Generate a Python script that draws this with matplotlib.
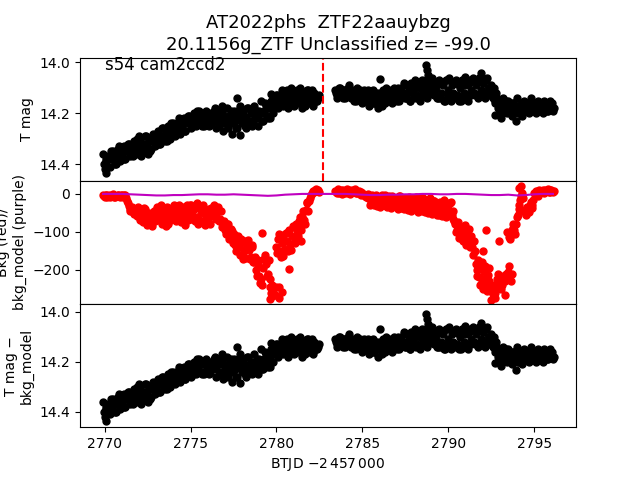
import numpy as np
import matplotlib
matplotlib.use("Agg")
import matplotlib.pyplot as plt

# ---------------- data ----------------
# segment 1 starts BTJD 2769.9, segment 2 starts 2783.4; values every 0.1 d,
# a second interleaved set of readings sits half a cadence later.
seg1_start, seg1_n = 2769.9, 126
seg2_start, seg2_n = 2783.4, 128
cadence = 0.1

mag_seg1 = [
    14.36, 14.42, 14.39, 14.37, 14.41, 14.38, 14.35, 14.40, 14.37, 14.34,
    14.39, 14.36, 14.33, 14.38, 14.35, 14.32, 14.37, 14.34, 14.31, 14.36,
    14.33, 14.29, 14.37, 14.32, 14.35, 14.29, 14.36, 14.31, 14.34, 14.28,
    14.33, 14.30, 14.27, 14.32, 14.29, 14.26, 14.31, 14.28, 14.25, 14.30,
    14.27, 14.24, 14.29, 14.26, 14.23, 14.28, 14.25, 14.22, 14.27, 14.24,
    14.21, 14.26, 14.23, 14.20, 14.25, 14.22, 14.19, 14.24, 14.21, 14.25,
    14.19, 14.22, 14.25, 14.20, 14.23, 14.18, 14.26, 14.21, 14.24, 14.19,
    14.27, 14.22, 14.18, 14.25, 14.21, 14.28, 14.19, 14.23, 14.26, 14.20,
    14.17, 14.24, 14.21, 14.26, 14.18, 14.23, 14.20, 14.25, 14.17, 14.22,
    14.25, 14.19, 14.15, 14.23, 14.20, 14.17, 14.22, 14.18, 14.15, 14.20,
    14.17, 14.13, 14.18, 14.15, 14.12, 14.17, 14.14, 14.11, 14.18, 14.15,
    14.12, 14.17, 14.14, 14.11, 14.16, 14.13, 14.18, 14.12, 14.15, 14.11,
    14.16, 14.13, 14.17, 14.12, 14.15, 14.14,
]
mag_seg1_b = [
    14.40, 14.38, 14.41, 14.38, 14.35, 14.38, 14.36, 14.40, 14.36, 14.33,
    14.37, 14.35, 14.38, 14.35, 14.32, 14.35, 14.33, 14.37, 14.33, 14.30,
    14.34, 14.31, 14.35, 14.32, 14.29, 14.33, 14.30, 14.35, 14.31, 14.30,
    14.31, 14.29, 14.32, 14.29, 14.26, 14.30, 14.27, 14.31, 14.27, 14.24,
    14.28, 14.25, 14.28, 14.25, 14.22, 14.26, 14.23, 14.27, 14.23, 14.21,
    14.24, 14.22, 14.25, 14.22, 14.19, 14.23, 14.21, 14.25, 14.21, 14.20,
    14.23, 14.21, 14.24, 14.22, 14.19, 14.22, 14.20, 14.25, 14.21, 14.17,
    14.24, 14.21, 14.26, 14.23, 14.19, 14.24, 14.21, 14.26, 14.22, 14.18,
    14.23, 14.20, 14.25, 14.22, 14.18, 14.23, 14.20, 14.24, 14.21, 14.19,
    14.22, 14.20, 14.23, 14.19, 14.16, 14.21, 14.18, 14.22, 14.17, 14.14,
    14.15, 14.13, 14.16, 14.14, 14.11, 14.15, 14.13, 14.17, 14.13, 14.10,
    14.14, 14.12, 14.16, 14.13, 14.10, 14.15, 14.12, 14.17, 14.14, 14.11,
    14.14, 14.11, 14.16, 14.13, 14.15, 14.13,
]
mag_seg2 = [
    14.11, 14.14, 14.12, 14.10, 14.13, 14.11, 14.14, 14.12, 14.09, 14.13,
    14.11, 14.15, 14.12, 14.10, 14.14, 14.13, 14.16, 14.11, 14.14, 14.12,
    14.17, 14.13, 14.11, 14.16, 14.14, 14.18, 14.12, 14.15, 14.11, 14.16,
    14.10, 14.14, 14.12, 14.16, 14.11, 14.13, 14.15, 14.10, 14.14, 14.12,
    14.09, 14.14, 14.12, 14.10, 14.15, 14.11, 14.08, 14.13, 14.10, 14.14,
    14.08, 14.12, 14.10, 14.07, 14.13, 14.09, 14.11, 14.08, 14.12, 14.10,
    14.14, 14.08, 14.12, 14.09, 14.15, 14.07, 14.11, 14.14, 14.09, 14.12,
    14.08, 14.13, 14.15, 14.10, 14.07, 14.12, 14.09, 14.14, 14.08, 14.11,
    14.07, 14.12, 14.09, 14.13, 14.06, 14.11, 14.08, 14.13, 14.07, 14.10,
    14.12, 14.09, 14.14, 14.16, 14.12, 14.18, 14.15, 14.19, 14.14, 14.17,
    14.20, 14.15, 14.18, 14.21, 14.16, 14.19, 14.14, 14.20, 14.17, 14.21,
    14.15, 14.19, 14.16, 14.20, 14.14, 14.18, 14.17, 14.20, 14.15, 14.19,
    14.16, 14.20, 14.15, 14.18, 14.19, 14.15, 14.17, 14.19,
]
mag_seg2_b = [
    14.12, 14.13, 14.10, 14.12, 14.14, 14.11, 14.13, 14.10, 14.12, 14.14,
    14.13, 14.12, 14.15, 14.13, 14.11, 14.14, 14.12, 14.15, 14.13, 14.11,
    14.15, 14.12, 14.16, 14.14, 14.12, 14.15, 14.13, 14.17, 14.14, 14.12,
    14.13, 14.11, 14.15, 14.13, 14.10, 14.14, 14.12, 14.15, 14.11, 14.13,
    14.08, 14.14, 14.09, 14.15, 14.08, 14.13, 14.07, 14.14, 14.09, 14.15,
    14.07, 14.13, 14.08, 14.14, 14.07, 14.12, 14.06, 14.13, 14.08, 14.14,
    14.07, 14.14, 14.08, 14.15, 14.07, 14.13, 14.06, 14.15, 14.08, 14.14,
    14.07, 14.14, 14.09, 14.15, 14.07, 14.13, 14.08, 14.15, 14.07, 14.13,
    14.06, 14.13, 14.07, 14.14, 14.06, 14.12, 14.08, 14.14, 14.06, 14.13,
    14.11, 14.13, 14.10, 14.15, 14.14, 14.17, 14.16, 14.20, 14.18, 14.15,
    14.18, 14.17, 14.20, 14.16, 14.19, 14.17, 14.20, 14.18, 14.16, 14.19,
    14.17, 14.18, 14.16, 14.19, 14.17, 14.18, 14.16, 14.18, 14.17, 14.19,
    14.17, 14.18, 14.16, 14.19, 14.17, 14.18, 14.16, 14.18,
]
mag_out_t = [2770.06, 2777.68, 2777.87, 2779.70, 2786.05, 2788.70, 2788.75,
             2788.80, 2790.98, 2791.93, 2792.73, 2793.07, 2793.96]
mag_out_v = [14.435, 14.142, 14.286, 14.123, 14.067, 14.010, 14.030,
             14.050, 14.058, 14.043, 14.205, 14.218, 14.231]

bkg_seg1 = [
    -3, -8, -2, -6, -9, -4, -1, -7, -5, -3,
    -8, -2, -6, -4, -18, -32, -45, -35, -52, -40,
    -58, -42, -63, -48, -38, -55, -70, -52, -78, -60,
    -45, -62, -38, -55, -48, -72, -60, -42, -80, -52,
    -38, -58, -45, -32, -62, -50, -70, -40, -58, -30,
    -48, -28, -55, -40, -62, -35, -68, -50, -42, -72,
    -55, -68, -48, -38, -58, -42, -52, -35, -65, -75,
    -82, -95, -78, -102, -110, -98, -120, -135, -115, -140,
    -128, -160, -150, -135, -125, -148, -165, -140, -178, -200,
    -185, -215, -225, -195, -170, -185, -210, -225, -260, -248,
    -265, -140, -118, -150, -130, -108, -145, -125, -100, -132,
    -110, -88, -125, -95, -72, -85, -58, -68, -42, -25,
    -18, -2, 8, 5, 12, 9,
]
bkg_seg1_b = [
    -5, -2, -7, -4, -6, -3, -8, -5, -2, -6,
    -4, -7, -3, -10, -25, -40, -38, -48, -45, -55,
    -35, -68, -45, -75, -40, -82, -50, -72, -85, -45,
    -70, -35, -68, -30, -78, -45, -85, -35, -70, -40,
    -65, -30, -70, -40, -28, -75, -35, -82, -45, -68,
    -30, -65, -35, -72, -25, -78, -38, -70, -30, -82,
    -75, -40, -78, -55, -30, -65, -38, -72, -45, -88,
    -70, -105, -80, -118, -92, -130, -105, -150, -110, -160,
    -118, -170, -125, -168, -120, -172, -135, -178, -165, -215,
    -175, -235, -240, -170, -160, -215, -175, -245, -240, -262,
    -245, -155, -105, -165, -112, -150, -102, -150, -95, -148,
    -85, -130, -78, -110, -60, -95, -45, -80, -20, -45,
    -10, 3, 5, 10, 8, 6,
]
bkg_seg2 = [
    8, 2, 12, 5, 0, 9, 3, 14, 6, 1,
    10, 4, 12, 2, 7, -2, 3, -4, -8, 1,
    -6, -18, -10, -22, -4, -14, -25, -8, -16, -2,
    -20, -10, -24, -6, -15, -28, -12, -20, -5, -26,
    -14, -30, -18, -8, -25, -32, -12, -22, -35, -16,
    -28, -10, -36, -20, -30, -14, -38, -24, -18, -40,
    -28, -45, -32, -22, -48, -30, -40, -25, -55, -45,
    -80, -95, -88, -105, -118, -98, -122, -108, -92, -128,
    -140, -125, -185, -200, -218, -195, -225, -205, -238, -212,
    -228, -245, -262, -275, -240, -210, -235, -250, -215, -230,
    -100, -205, -118, -95, -78, -105, -62, -40, -15, 2,
    -42, -55, -35, -48, -22, -38, 2, 8, -5, 10,
    5, 10, 3, 8, 12, 4, 9, 6,
]
bkg_seg2_b = [
    5, 7, 3, 10, 6, 4, 8, 2, 10, 5,
    6, 8, 3, 5, 0, 4, -1, -6, -3, -10,
    -28, -2, -30, -5, -32, -8, -35, -3, -28, -10,
    -35, -5, -38, -8, -32, -12, -40, -6, -36, -10,
    -40, -10, -42, -12, -45, -15, -38, -8, -48, -12,
    -45, -12, -48, -15, -50, -10, -52, -18, -45, -55,
    -55, -20, -58, -15, -60, -25, -50, -22, -65, -72,
    -100, -75, -115, -90, -125, -82, -135, -95, -140, -110,
    -160, -150, -215, -175, -240, -180, -250, -190, -255, -195,
    -238, -255, -250, -260, -225, -225, -220, -240, -222, -210,
    -210, -112, -108, -90, -95, -80, -55, -30, -5, -10,
    -48, -42, -40, -30, -30, -15, 0, 5, 8, 5,
    8, 6, 10, 7, 5, 9, 7, 8,
]
bkg_out_t = [2779.16, 2779.60, 2779.75, 2780.13, 2780.15, 2780.34, 2780.36,
             2780.73, 2781.40, 2791.90, 2792.00, 2792.22, 2792.50, 2792.93,
             2793.30, 2793.45, 2793.55, 2793.65, 2793.70, 2794.15, 2794.25]
bkg_out_v = [-102, -277, -268, -244, -275, -258, -162,
             -197, -125, -236, -149, -94, -280, -125,
             -265, -215, -190, -230, -210, 15, 20]

model_t = [2769.9, 2770.5, 2771.0, 2771.5, 2772.0, 2772.5, 2773.0, 2773.5,
           2774.0, 2774.5, 2775.0, 2775.5, 2776.0, 2776.5, 2777.0, 2777.5,
           2778.0, 2778.5, 2779.0, 2779.5, 2780.0, 2780.5, 2781.0, 2781.5,
           2782.0, 2782.4, 2783.4, 2784.0, 2784.5, 2785.0, 2785.5, 2786.0,
           2786.5, 2787.0, 2787.5, 2788.0, 2788.5, 2789.0, 2789.5, 2790.0,
           2790.5, 2791.0, 2791.5, 2792.0, 2792.5, 2793.0, 2793.5, 2794.0,
           2794.5, 2795.0, 2795.5, 2796.0, 2796.1]
model_v = [0, 0, 0, -1, -2, -3, -4, -4,
           -3, -3, -2, -1, -1, -2, -2, -1,
           -2, -3, -4, -5, -4, -2, -1, 0,
           0, 0, 0, 0, -1, -2, -3, -3,
           -2, -2, -1, -1, 0, 0, -1, -1,
           0, 0, -1, -2, -3, -3, -2, -4,
           -3, -1, 0, 0, 0]

gap_time = 2782.69
label_text = "s54 cam2ccd2"
title_text = "AT2022phs  ZTF22aauybzg\n20.1156g_ZTF Unclassified z= -99.0"

# ---------------- assemble ----------------
t1 = seg1_start + cadence * np.arange(seg1_n)
t2 = seg2_start + cadence * np.arange(seg2_n)
t_a = np.concatenate([t1, t2])
t_b = t_a + cadence / 2
mag_t = np.concatenate([t_a, t_b, mag_out_t])
mag_v = np.concatenate([mag_seg1, mag_seg2, mag_seg1_b, mag_seg2_b, mag_out_v])
bkg_t = np.concatenate([t_a, t_b, bkg_out_t])
bkg_v = np.concatenate([bkg_seg1, bkg_seg2, bkg_seg1_b, bkg_seg2_b, bkg_out_v])

# ---------------- plot ----------------
fig, (ax1, ax2, ax3) = plt.subplots(3, 1, sharex=True, figsize=(6.4, 4.8), dpi=100)
fig.subplots_adjust(hspace=0)

ms = 5.0
ax1.plot(mag_t, mag_v, 'o', color='k', ms=ms)
ax1.axvline(gap_time, color='r', ls='--', lw=1.5)
ax1.set_ylim(14.466, 13.981)
ax1.set_ylabel('T mag')
ax1.text(0.05, 0.9, label_text, transform=ax1.transAxes, fontsize=12)
ax1.set_title(title_text, fontsize=13)

ax2.plot(bkg_t, bkg_v, 'o', color='r', ms=ms)
ax2.plot(model_t, model_v, '-', color='m', lw=1.5)
ax2.set_ylim(-289.5, 34.5)
ax2.set_ylabel('Bkg (red)/\nbkg_model (purple)')

ax3.plot(mag_t, mag_v, 'o', color='k', ms=ms)
ax3.set_ylim(14.461, 13.968)
ax3.set_ylabel('T mag \u2212\nbkg_model')
ax3.set_xlabel(r'BTJD $-2\,457\,000$')

ax3.set_xlim(2768.56, 2797.44)
ax3.set_xticks([2770, 2775, 2780, 2785, 2790, 2795])
ax1.set_yticks([14.0, 14.2, 14.4])
ax2.set_yticks([0, -100, -200])
ax3.set_yticks([14.0, 14.2, 14.4])

fig.savefig('out.png', dpi=100)
